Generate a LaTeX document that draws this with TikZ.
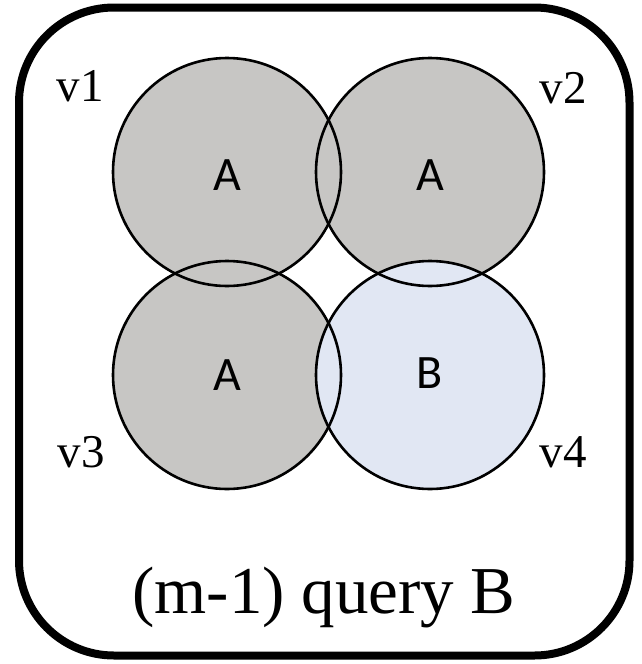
\documentclass[tikz,border=0pt]{standalone}
\usepackage{fontspec}
\setmainfont{Liberation Serif}
\newfontfamily\calfont{Carlito}
\definecolor{cgray}{RGB}{199,198,196}
\definecolor{cblue}{RGB}{225,231,243}
\begin{document}
\begin{tikzpicture}[x=1pt,y=-1pt,
  circ/.style={circle,minimum size=228pt,inner sep=0pt,line width=2.6pt},
  ctext/.style={font=\calfont\fontsize{48}{48}\selectfont},
  vlab/.style={font=\fontsize{47}{47}\selectfont,inner sep=0pt}]
\useasboundingbox (0,0) rectangle (641,664);
\draw[line width=8pt,rounded corners=95pt] (19,7.5) rectangle (629.5,655.5);
% fills
\node[circ,fill=cgray] (c1) at (227,172) {};
\node[circ,fill=cgray] (c2) at (430,172) {};
\node[circ,fill=cgray] (c3) at (227,375) {};
\node[circ,fill=cblue] (c4) at (430,375) {};
% strokes
\foreach \c in {c1,c2,c3,c4}{\draw[line width=2.6pt] (\c) circle[radius=114pt];}
\node[ctext] (t1) at (227,175) {A};
\node[ctext] (t2) at (430,175) {A};
\node[ctext] (t3) at (227,375) {A};
\node[ctext] (t4) at (430,373) {B};
\node[vlab] (v1) at (80,86) {v1};
\node[vlab] (v2) at (563,88) {v2};
\node[vlab] (v3) at (81,452) {v3};
\node[vlab] (v4) at (563,452) {v4};
\node[font=\fontsize{67}{67}\selectfont] (q) at (324,597) {(m-1) query B};
\end{tikzpicture}
\end{document}
